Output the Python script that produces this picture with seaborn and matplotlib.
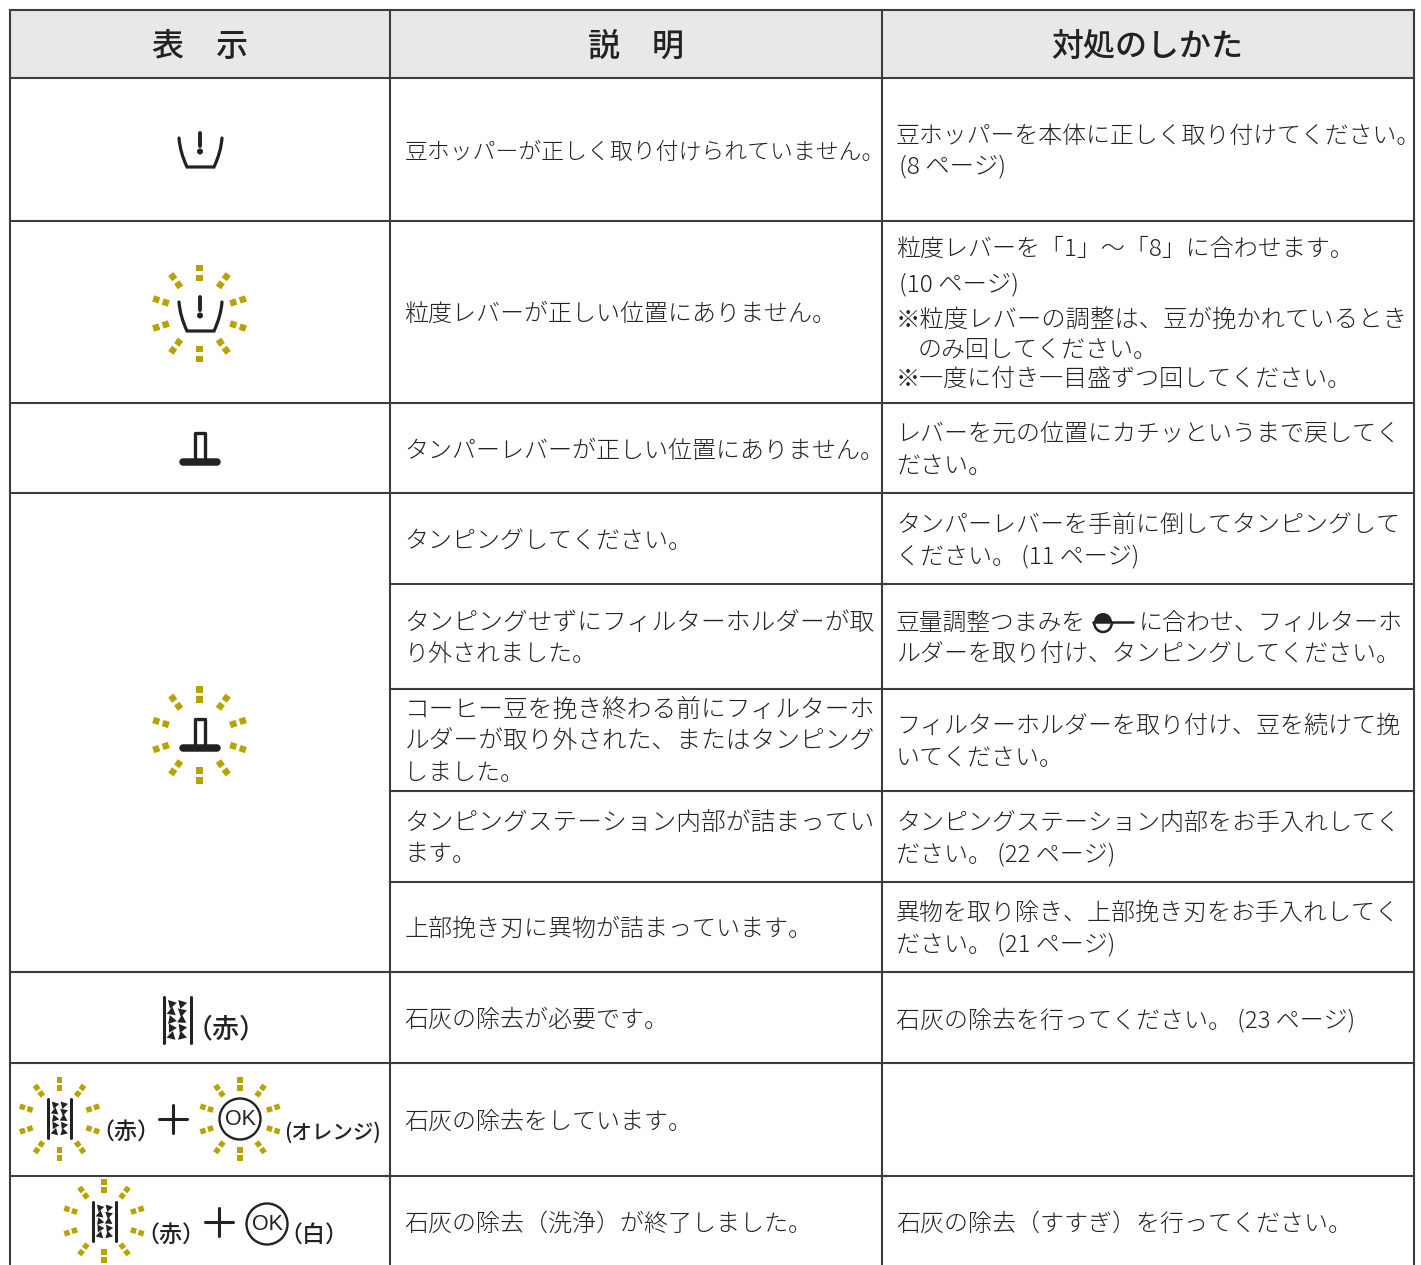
import numpy as np
import pandas as pd
import matplotlib
matplotlib.use('Agg')
import matplotlib.pyplot as plt
from matplotlib.patches import Polygon, Circle, Arc, Wedge, RegularPolygon, PathPatch
from matplotlib.path import Path
import seaborn as sns

# table text
header_labels = ["表　示", "説　明", "対処のしかた"]

desc_lines = [
    "豆ホッパーが正しく取り付けられていません。",
    "粒度レバーが正しい位置にありません。",
    "タンパーレバーが正しい位置にありません。",
    "タンピングしてください。",
    "タンピングせずにフィルターホルダーが取",
    "り外されました。",
    "コーヒー豆を挽き終わる前にフィルターホ",
    "ルダーが取り外された、またはタンピング",
    "しました。",
    "タンピングステーション内部が詰まってい",
    "ます。",
    "上部挽き刃に異物が詰まっています。",
    "石灰の除去が必要です。",
    "石灰の除去をしています。",
    "石灰の除去（洗浄）が終了しました。",
]
desc_y = [150, 312, 449, 539, 621, 652, 708, 739, 771, 821, 852, 927, 1018, 1120, 1222]
desc_pitch = [22.85, 24, 24, 24, 24.7, 24, 24.7, 24.7, 24, 24.7, 24, 24, 24, 24, 24]

fix_lines = [
    "豆ホッパーを本体に正しく取り付けてください。",
    "(8 ページ)",
    "粒度レバーを「1」〜「8」に合わせます。",
    "(10 ページ)",
    "※粒度レバーの調整は、豆が挽かれているとき",
    "のみ回してください。",
    "※一度に付き一目盛ずつ回してください。",
    "レバーを元の位置にカチッというまで戻してく",
    "ださい。",
    "タンパーレバーを手前に倒してタンピングして",
    "ください。 (11 ページ)",
    "豆量調整つまみを",
    "に合わせ、フィルターホ",
    "ルダーを取り付け、タンピングしてください。",
    "フィルターホルダーを取り付け、豆を続けて挽",
    "いてください。",
    "タンピングステーション内部をお手入れしてく",
    "ださい。 (22 ページ)",
    "異物を取り除き、上部挽き刃をお手入れしてく",
    "ださい。 (21 ページ)",
    "石灰の除去を行ってください。 (23 ページ)",
    "石灰の除去（すすぎ）を行ってください。",
]
fix_x = [896, 899, 896, 899, 896, 918, 896, 896, 896, 896, 896, 896, 1139, 896, 896, 896, 896, 896, 896, 896, 896, 896]
fix_y = [134, 164, 247, 282, 318, 348, 377, 432, 464, 523, 554, 621, 621, 652, 724, 756, 821, 852, 911, 942, 1018, 1222]
fix_pitch = [23.9, 24.4, 24, 24.4, 24.35, 24, 24, 24, 24, 24, 24, 23.8, 24, 24, 24, 24, 24, 24, 24, 24, 24, 24]

# table rules
col_edges = [10, 390, 882, 1414]
row_edges = [10, 78, 221, 403, 493, 584, 689, 791, 882, 972, 1063, 1176]
merged_rows = [584, 689, 791, 882]  # no rule in the first column here
fig_bottom = 1265

INK = "#222222"
RULE = "#3c3c3c"
RAY = "#b7a300"
FONT = ['Noto Sans CJK JP', 'DejaVu Sans']

sns.set_theme(style='white')
plt.rcParams['font.family'] = FONT

fig = plt.figure(figsize=(14.21, 12.65), dpi=100, facecolor='white')

# header band
ax_head = fig.add_axes([col_edges[0] / 1421, 1 - row_edges[1] / 1265,
                        (col_edges[-1] - col_edges[0]) / 1421,
                        (row_edges[1] - row_edges[0]) / 1265], zorder=0)
sns.heatmap(pd.DataFrame([[1]]), ax=ax_head, cbar=False, cmap=["#e7e8e9"],
            xticklabels=False, yticklabels=False)

ax = fig.add_axes([0, 0, 1, 1], zorder=1)
ax.set_xlim(0, 1421)
ax.set_ylim(1265, 0)
ax.axis('off')
ax.patch.set_alpha(0)


def rule(x0, x1, y0, y1):
    sns.lineplot(x=[x0, x1], y=[y0, y1], ax=ax, color=RULE, lw=1.5, estimator=None,
                 sort=False, solid_capstyle='projecting', legend=False)


def label(x, y, s, pitch, ha='left', weight=300, color=INK, family=None):
    # y is the middle of the em box
    ax.text(x, y + 0.38 * pitch, s, fontsize=pitch * 0.72, ha=ha, va='baseline',
            color=color, fontweight=weight, family=family or FONT)


def rays(cx, cy, r_in, r_out, size):
    for ang in np.radians(np.arange(0, 360, 36)):
        d = np.array([np.sin(ang), -np.cos(ang)])
        n = np.array([d[1], -d[0]])
        for r in (r_in, r_out):
            c = np.array([cx, cy]) + d * r
            h = size / 2
            ax.add_patch(Polygon([c + d * h + n * h, c + d * h - n * h, c - d * h - n * h, c - d * h + n * h],
                                 closed=True, fc=RAY, ec='none'))


def hopper(cx, cy):
    verts = [(cx - 21, cy - 12), (cx - 20, cy + 2), (cx - 13, cy + 17), (cx + 14, cy + 17),
             (cx + 21, cy + 2), (cx + 22, cy - 12)]
    codes = [Path.MOVETO, Path.CURVE3, Path.CURVE3, Path.LINETO, Path.CURVE3, Path.CURVE3]
    ax.add_patch(PathPatch(Path(verts, codes), fc='none', ec=INK, lw=2.3, capstyle='round', joinstyle='miter'))
    ax.plot([cx, cx], [cy - 17, cy - 4], color=INK, lw=2.8, solid_capstyle='round')
    ax.add_patch(Circle((cx, cy + 1.5), 3.0, fc=INK, ec='none'))


def tamper(cx, base):
    ax.plot([cx - 5, cx - 5, cx + 5, cx + 5], [base - 2, base - 29, base - 29, base - 2], color=INK,
            lw=2.4, solid_joinstyle='round')
    ax.plot([cx - 17, cx + 17], [base, base], color=INK, lw=5.4, solid_capstyle='round')


def filter_icon(x0, x1, y0, y1):
    h = y1 - y0
    for x in (x0, x1):
        ax.plot([x, x], [y0, y1], color=INK, lw=2.2, solid_capstyle='round')
    tilt = [0.3, 2.4, 1.2, 0.2, 2.8, 1.1, 0.5, 2.5, 1.3, 2.9]
    for i, t in enumerate(tilt):
        tx = x0 + (x1 - x0) * (0.3 if i % 2 == 0 else 0.68)
        ty = y0 + h * (0.15 + 0.175 * (i // 2))
        ax.add_patch(RegularPolygon((tx, ty), 3, radius=h * 0.115, orientation=t, fc=INK, ec='none'))


def ok_mark(cx, cy):
    ax.add_patch(Circle((cx, cy), 20.5, fc='none', ec=INK, lw=1.7))
    ax.text(cx, cy + 0.5, "OK", fontsize=15.5, ha='center', va='center', color=INK,
            family='Liberation Sans')


def plus(cx, cy):
    ax.plot([cx - 14, cx + 14], [cy, cy], color=INK, lw=2.2)
    ax.plot([cx, cx], [cy - 14, cy + 14], color=INK, lw=2.2)


# rules
for y in row_edges:
    x_start = col_edges[1] if y in merged_rows else col_edges[0]
    rule(x_start, col_edges[-1], y, y)
for x in col_edges:
    rule(x, x, row_edges[0], fig_bottom)

# header
for x, s in zip([200, 636, 1147], header_labels):
    label(x, 44, s, 32, ha='center', weight=500)

# text columns
for s, y, p in zip(desc_lines, desc_y, desc_pitch):
    label(404.5, y, s, p)
for s, x, y, p in zip(fix_lines, fix_x, fix_y, fix_pitch):
    label(x, y, s, p)

# spoon mark inside the text line
ax.plot([1093, 1133], [622, 622], color=INK, lw=1.8)
ax.add_patch(Wedge((1103, 622), 9, 180, 360, fc=INK, ec='none'))  # y axis is flipped
ax.add_patch(Arc((1103, 622), 18, 20, theta1=0, theta2=180, ec=INK, lw=1.8))

# icons of the first column
hopper(200, 150)
rays(199.5, 313.5, 35.5, 45.5, 6.5)
hopper(200, 314)
tamper(200, 462)
rays(199.5, 735, 35.5, 45.5, 6.5)
tamper(200, 748)

filter_icon(163.5, 190.5, 997, 1043)
label(226, 1027, "（赤）", 27, ha='center', weight=500)

rays(59.5, 1119, 31, 39, 5.5)
filter_icon(48, 71, 1099, 1138)
label(126, 1130, "（赤）", 23, ha='center', weight=500)
plus(173, 1119)
rays(240, 1119, 31, 39, 5.5)
ok_mark(240, 1119)
label(333, 1131, "(オレンジ)", 20.5, ha='center', weight=500)

rays(104, 1221, 31, 39, 5.5)
filter_icon(93, 116, 1202, 1241)
label(171, 1233, "（赤）", 23, ha='center', weight=500)
plus(219, 1222)
ok_mark(267, 1224)
label(314, 1233, "（白）", 23, ha='center', weight=500)

fig.savefig('out.png', dpi=100, facecolor='white')
